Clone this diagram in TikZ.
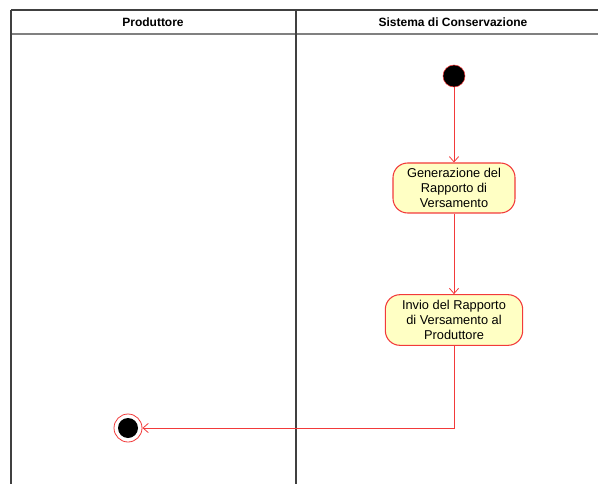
\documentclass[tikz,border=0pt]{standalone}
\usepackage{fontspec}
\setmainfont{Liberation Sans}
\usetikzlibrary{arrows.meta}
\definecolor{actred}{HTML}{F23A3A}
\definecolor{actfill}{HTML}{FFFFC4}
\tikzset{
    activity/.style={draw=actred, fill=actfill, rounded corners=11pt, thick, align=center, font=\fontsize{9.6}{11}\selectfont, inner sep=0pt},
    flow/.style={actred, semithick, -{Straight Barb[length=4pt,width=7pt]}},
    lane/.style={black!75, thick}
}
\begin{document}
\begin{tikzpicture}[x=0.75pt, y=-0.75pt]
    \useasboundingbox (0,0) rectangle (598,484);

    % Swimlanes
    \draw[lane] (11,10) -- (598,10);
    \draw[black!50, very thick] (11,34) -- (598,34);
    \draw[lane] (11,10) -- (11,484);
    \draw[lane] (296,10) -- (296,484);
    \node[font=\bfseries\fontsize{9}{10}\selectfont] (prod) at (153,22) {Produttore};
    \node[font=\bfseries\fontsize{9}{10}\selectfont] (sist) at (453,22) {Sistema di Conservazione};

    % Activities
    \node[circle, fill=black, draw=actred, minimum size=16.5pt, inner sep=0pt] (start) at (454,76) {};
    \node[activity, minimum width=91.5pt, minimum height=37.5pt] (gen) at (454,188) {Generazione del\\Rapporto di\\Versamento};
    \node[activity, minimum width=103pt, minimum height=38pt] (invio) at (454,320) {Invio del Rapporto\\di Versamento al\\Produttore};
    \node[circle, draw=actred, semithick, fill=white, minimum size=21pt, inner sep=0pt] (fine) at (128,428) {};
    \fill[black] (fine) circle (10);

    % Flows
    \draw[flow] (start) -- (gen);
    \draw[flow] (gen) -- (invio);
    \draw[flow] (invio) |- (fine);
\end{tikzpicture}
\end{document}
